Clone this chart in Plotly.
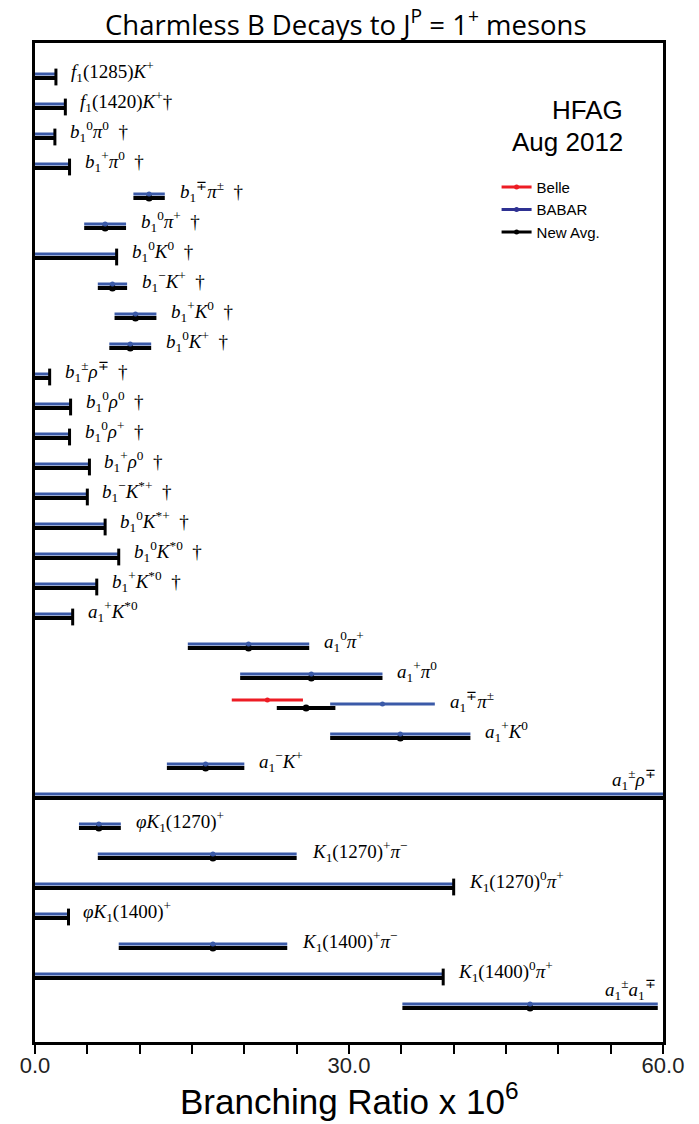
import plotly.graph_objects as go

# ---------------- data ----------------
labels = [
    "<i>f</i><sub>1</sub>(1285)<i>K</i><sup>+</sup>",
    "<i>f</i><sub>1</sub>(1420)<i>K</i><sup>+</sup>†",
    "<i>b</i><sub>1</sub><sup>0</sup><i>π</i><sup>0</sup>  †",
    "<i>b</i><sub>1</sub><sup>+</sup><i>π</i><sup>0</sup>  †",
    "<i>b</i><sub>1</sub><sup>∓</sup><i>π</i><sup>±</sup>  †",
    "<i>b</i><sub>1</sub><sup>0</sup><i>π</i><sup>+</sup>  †",
    "<i>b</i><sub>1</sub><sup>0</sup><i>K</i><sup>0</sup>  †",
    "<i>b</i><sub>1</sub><sup>−</sup><i>K</i><sup>+</sup>  †",
    "<i>b</i><sub>1</sub><sup>+</sup><i>K</i><sup>0</sup>  †",
    "<i>b</i><sub>1</sub><sup>0</sup><i>K</i><sup>+</sup>  †",
    "<i>b</i><sub>1</sub><sup>±</sup><i>ρ</i><sup>∓</sup>  †",
    "<i>b</i><sub>1</sub><sup>0</sup><i>ρ</i><sup>0</sup>  †",
    "<i>b</i><sub>1</sub><sup>0</sup><i>ρ</i><sup>+</sup>  †",
    "<i>b</i><sub>1</sub><sup>+</sup><i>ρ</i><sup>0</sup>  †",
    "<i>b</i><sub>1</sub><sup>−</sup><i>K</i><sup>*+</sup>  †",
    "<i>b</i><sub>1</sub><sup>0</sup><i>K</i><sup>*+</sup>  †",
    "<i>b</i><sub>1</sub><sup>0</sup><i>K</i><sup>*0</sup>  †",
    "<i>b</i><sub>1</sub><sup>+</sup><i>K</i><sup>*0</sup>  †",
    "<i>a</i><sub>1</sub><sup>+</sup><i>K</i><sup>*0</sup>",
    "<i>a</i><sub>1</sub><sup>0</sup><i>π</i><sup>+</sup>",
    "<i>a</i><sub>1</sub><sup>+</sup><i>π</i><sup>0</sup>",
    "<i>a</i><sub>1</sub><sup>∓</sup><i>π</i><sup>±</sup>",
    "<i>a</i><sub>1</sub><sup>+</sup><i>K</i><sup>0</sup>",
    "<i>a</i><sub>1</sub><sup>−</sup><i>K</i><sup>+</sup>",
    "<i>a</i><sub>1</sub><sup>±</sup><i>ρ</i><sup>∓</sup>",
    "<i>φK</i><sub>1</sub>(1270)<sup>+</sup>",
    "<i>K</i><sub>1</sub>(1270)<sup>+</sup><i>π</i><sup>−</sup>",
    "<i>K</i><sub>1</sub>(1270)<sup>0</sup><i>π</i><sup>+</sup>",
    "<i>φK</i><sub>1</sub>(1400)<sup>+</sup>",
    "<i>K</i><sub>1</sub>(1400)<sup>+</sup><i>π</i><sup>−</sup>",
    "<i>K</i><sub>1</sub>(1400)<sup>0</sup><i>π</i><sup>+</sup>",
    "<i>a</i><sub>1</sub><sup>±</sup><i>a</i><sub>1</sub><sup>∓</sup>",
]

# True = 90% CL upper limit (bar from 0 to the limit)
is_ul = [True, True, True, True, False, False, True, False, False, False,
         True, True, True, True, True, True, True, True, True, False,
         False, False, False, False, True, False, False, True, True, False,
         True, False]

# BABAR: central value (None for limits), interval low / high
babar_val = [None, None, None, None, 10.9, 6.7, None, 7.4, 9.6, 9.1,
             None, None, None, None, None, None, None, None, None, 20.4,
             26.4, 33.2, 34.9, 16.3, None, 6.1, 17.0, None, None, 17.0,
             None, 47.3]
babar_lo = [0, 0, 0, 0, 9.4, 4.7, 0, 6.0, 7.6, 7.1,
            0, 0, 0, 0, 0, 0, 0, 0, 0, 14.6,
            19.6, 28.2, 28.2, 12.6, 0, 4.2, 6.0, 0, 0, 8.0,
            0, 35.1]
babar_hi = [2.0, 2.9, 1.9, 3.3, 12.4, 8.7, 7.8, 8.8, 11.6, 11.1,
            1.4, 3.4, 3.3, 5.2, 5.0, 6.7, 8.0, 5.9, 3.6, 26.2,
            33.2, 38.2, 41.6, 20.0, 61.0, 8.2, 25.0, 40.0, 3.2, 24.1,
            39.0, 59.5]

# New average
avg_val = [None, None, None, None, 10.9, 6.7, None, 7.4, 9.6, 9.1,
           None, None, None, None, None, None, None, None, None, 20.4,
           26.4, 25.9, 34.9, 16.3, None, 6.1, 17.0, None, None, 17.0,
           None, 47.3]
avg_lo = [0, 0, 0, 0, 9.4, 4.7, 0, 6.0, 7.6, 7.1,
          0, 0, 0, 0, 0, 0, 0, 0, 0, 14.6,
          19.6, 23.1, 28.2, 12.6, 0, 4.2, 6.0, 0, 0, 8.0,
          0, 35.1]
avg_hi = [2.0, 2.9, 1.9, 3.3, 12.4, 8.7, 7.8, 8.8, 11.6, 11.1,
          1.4, 3.4, 3.3, 5.2, 5.0, 6.7, 8.0, 5.9, 3.6, 26.2,
          33.2, 28.7, 41.6, 20.0, 61.0, 8.2, 25.0, 40.0, 3.2, 24.1,
          39.0, 59.5]

# Belle (only a1 pi)
belle_rows = [21]
belle_val = [22.2]
belle_lo = [18.8]
belle_hi = [25.6]

x_ticks = [0, 5, 10, 15, 20, 25, 30, 35, 40, 45, 50, 55, 60]
x_tick_text = ["0.0", "", "", "", "", "", "30.0", "", "", "", "", "", "60.0"]

# ---------------- styling ----------------
BLUE = "#3b5aa8"
BLUE_LEG = "#2e3192"
RED = "#ed1c24"
BLACK = "#000000"
PX = 1.0 / 30.0          # one pixel in row units
OFF_BLUE = -2 * PX
OFF_BLACK = 2 * PX
OFF_BELLE = -6 * PX

n = len(labels)
rows = list(range(n))


def seg_trace(lo, hi, rws, off, color, width):
    xs, ys = [], []
    for a, b, r in zip(lo, hi, rws):
        xs += [a, b, None]
        ys += [r + off, r + off, None]
    return go.Scatter(x=xs, y=ys, mode="lines", line=dict(color=color, width=width),
                      showlegend=False, hoverinfo="skip")


def dot_trace(vals, rws, off, color, size):
    xs = [v for v in vals if v is not None]
    ys = [r + off for v, r in zip(vals, rws) if v is not None]
    return go.Scatter(x=xs, y=ys, mode="markers",
                      marker=dict(color=color, size=size), showlegend=False,
                      hoverinfo="skip")


fig = go.Figure()
fig.add_trace(seg_trace(avg_lo, avg_hi, rows, OFF_BLACK, BLACK, 4))
fig.add_trace(seg_trace(babar_lo, babar_hi, rows, OFF_BLUE, BLUE, 3))
fig.add_trace(seg_trace(belle_lo, belle_hi, belle_rows, OFF_BELLE, RED, 3))
fig.add_trace(dot_trace(avg_val, rows, OFF_BLACK, BLACK, 7))
fig.add_trace(dot_trace(babar_val, rows, OFF_BLUE, BLUE, 5))
fig.add_trace(dot_trace(belle_val, belle_rows, OFF_BELLE, RED, 5))

# caps at the end of the upper limits
cap_x = [h for h, u in zip(avg_hi, is_ul) if u]
cap_y = [r + OFF_BLACK - PX for r, u in zip(rows, is_ul) if u]
fig.add_trace(go.Scatter(x=cap_x, y=cap_y, mode="markers",
                         marker=dict(symbol="line-ns", size=12,
                                     line=dict(color=BLACK, width=3)),
                         showlegend=False, hoverinfo="skip"))

# legend entries
for name, col in [("Belle", RED), ("BABAR", BLUE_LEG), ("New Avg.", BLACK)]:
    fig.add_trace(go.Scatter(x=[None], y=[None], mode="lines+markers", name=name,
                             line=dict(color=col, width=3),
                             marker=dict(color=col, size=5)))

LABEL_FONT = dict(family="Liberation Serif", size=19, color="black")

# row labels
ann = []
for r in rows:
    hi = max(avg_hi[r], babar_hi[r])
    if r in belle_rows:
        hi = max(hi, belle_hi[belle_rows.index(r)])
    if hi >= 45:
        ann.append(dict(x=60, y=r, xref="x", yref="y", text=labels[r], showarrow=False,
                        xanchor="right", yanchor="middle", xshift=-5, yshift=17,
                        font=LABEL_FONT))
    else:
        ann.append(dict(x=hi, y=r, xref="x", yref="y", text=labels[r], showarrow=False,
                        xanchor="left", yanchor="middle", xshift=13, yshift=5,
                        font=LABEL_FONT))

ann.append(dict(x=0.495, y=1.0, xref="paper", yref="paper", yshift=21,
                text="Charmless B Decays to J<sup>P</sup> = 1<sup>+</sup> mesons",
                showarrow=False, xanchor="center", yanchor="middle",
                font=dict(family="Open Sans", size=27.5, color="black")))
ann.append(dict(x=0.94, y=1.0, xref="paper", yref="paper", yshift=-67,
                text="HFAG", showarrow=False, xanchor="right", yanchor="middle",
                font=dict(family="Liberation Sans", size=26, color="black")))
ann.append(dict(x=0.94, y=1.0, xref="paper", yref="paper", yshift=-99,
                text="Aug 2012", showarrow=False, xanchor="right", yanchor="middle",
                font=dict(family="Liberation Sans", size=26, color="black")))
ann.append(dict(x=0.5, y=0.0, xref="paper", yref="paper", yshift=-57,
                text="Branching Ratio x 10<sup>6</sup>", showarrow=False,
                xanchor="center", yanchor="middle",
                font=dict(family="Liberation Sans", size=35, color="black")))

# the page body adds an 8px offset; the figure is sized to fit the 699x1124 window
fig.update_layout(
    width=691, height=1116,
    margin=dict(l=25, r=36, t=35, b=82),
    paper_bgcolor="white", plot_bgcolor="white",
    annotations=ann,
    showlegend=True,
    legend=dict(x=0.735, y=0.872, xanchor="left", yanchor="top",
                bgcolor="rgba(0,0,0,0)", borderwidth=0,
                font=dict(family="Liberation Sans", size=15, color="black"),
                itemwidth=30, tracegroupgap=0),
    xaxis=dict(range=[0, 60], tickvals=x_ticks, ticktext=x_tick_text,
               ticks="outside", ticklen=9, tickwidth=2, tickcolor="black",
               ticklabelstandoff=-7,
               showline=True, linewidth=3, linecolor="black", mirror=True,
               showgrid=False, zeroline=False,
               tickfont=dict(family="Liberation Sans", size=22, color="#222")),
    yaxis=dict(range=[32.2, -1.1], showticklabels=False, ticks="",
               showline=True, linewidth=3, linecolor="black", mirror=True,
               showgrid=False, zeroline=False),
)

fig.write_html("out.html")
